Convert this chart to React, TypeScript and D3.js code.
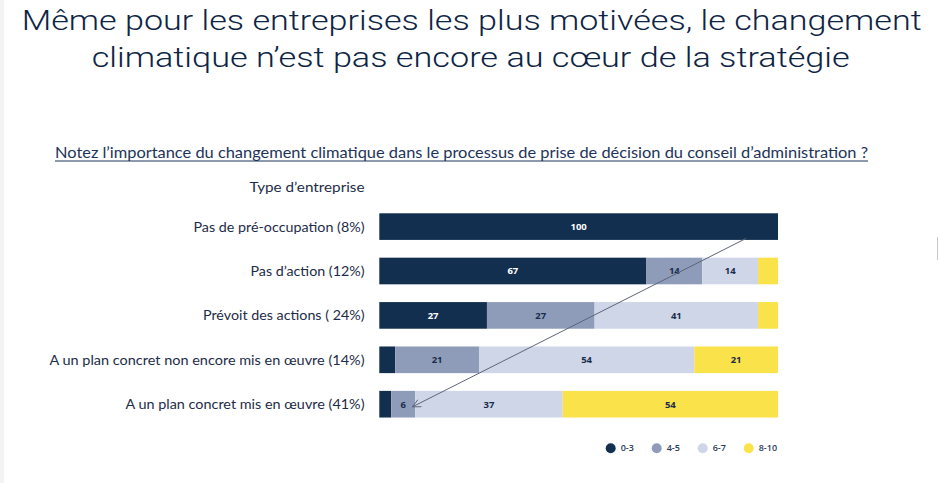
import React from "react";
import * as d3 from "d3";

const categories = [
  "Pas de pré-occupation (8%)",
  "Pas d’action (12%)",
  "Prévoit des actions ( 24%)",
  "A un plan concret non encore mis en œuvre (14%)",
  "A un plan concret mis en œuvre (41%)",
];
const seriesKeys = ["0-3", "4-5", "6-7", "8-10"];
const s03 = [100, 67, 27, 4, 3];
const s45 = [0, 14, 27, 21, 6];
const s67 = [0, 14, 41, 54, 37];
const s810 = [0, 5, 5, 21, 54];
const colors = ["#132f50", "#8e9cba", "#ced6e8", "#fae24a"];
const labelColors = ["#ffffff", "#1b2c4a", "#1b2c4a", "#1b2c4a"];

const titleLines = [
  "Même pour les entreprises les plus motivées, le changement",
  "climatique n’est pas encore au cœur de la stratégie",
];
const subtitle =
  "Notez l’importance du changement climatique dans le processus de prise de décision du conseil d’administration ?";
const axisTitle = "Type d’entreprise";

export default function App() {
  const W = 939;
  const H = 483;
  const rows = categories.map((c, i) => ({
    cat: c,
    "0-3": s03[i],
    "4-5": s45[i],
    "6-7": s67[i],
    "8-10": s810[i],
  }));
  const stack = d3.stack<any>().keys(seriesKeys)(rows);
  const x = d3.scaleLinear().domain([0, 100]).range([379.3, 778]);
  const y = d3
    .scaleBand<string>()
    .domain(categories)
    .range([204.4, 426.4])
    .paddingInner(0.4)
    .paddingOuter(0.2);
  const bw = y.bandwidth();

  const titleFont = "Roboto, 'Liberation Sans', Arial, sans-serif";
  const bodyFont = "Lato, 'Open Sans', sans-serif";
  const labelWidths = [171, 114, 161.5, 315, 239];

  const legendX = [610.7, 656.7, 702.7, 748.7];

  const ax1 = x(92), ay1 = (y(categories[0]) as number) + bw - 1.5;
  const ax2 = x(8.3), ay2 = (y(categories[4]) as number) + bw * 0.6;
  const ang = Math.atan2(ay1 - ay2, ax1 - ax2);
  const ah = 9;
  const spread = 0.45;
  const h1 = [ax2 + ah * Math.cos(ang + spread), ay2 + ah * Math.sin(ang + spread)];
  const h2 = [ax2 + ah * Math.cos(ang - spread), ay2 + ah * Math.sin(ang - spread)];

  return (
    <div style={{ position: "absolute", left: 0, top: 0 }}>
      <svg width={W} height={H} style={{ display: "block", background: "#ffffff" }}>
        <rect x={0} y={0} width={4} height={H} fill="#f4f4f4" />
        <line x1={937.5} x2={937.5} y1={237} y2={260} stroke="#c8c8c8" strokeWidth={1} />
        {titleLines.map((t, i) => (
          <text
            key={i}
            x={i === 0 ? 21.7 : 91.7}
            y={i === 0 ? 30 : 67}
            fontFamily={titleFont}
            fontWeight={300}
            fontSize={28.5}
            fill="#0e2444"
            textLength={i === 0 ? 900 : 758}
            lengthAdjust="spacingAndGlyphs"
          >
            {t}
          </text>
        ))}
        <text
          x={55}
          y={158.3}
          fontFamily={bodyFont}
          fontSize={15}
          fill="#1d3458"
          textLength={813}
          lengthAdjust="spacingAndGlyphs"
        >
          {subtitle}
        </text>
        <line x1={55} x2={868} y1={161} y2={161} stroke="#1d3458" strokeWidth={1} />
        <text
          x={364.5}
          y={192}
          textAnchor="end"
          fontFamily={bodyFont}
          fontSize={13.5}
          fill="#1d2c47"
          textLength={115}
          lengthAdjust="spacingAndGlyphs"
        >
          {axisTitle}
        </text>
        {categories.map((c, i) => (
          <text
            key={c}
            x={364.5}
            y={(y(c) as number) + bw / 2}
            dy="0.36em"
            textAnchor="end"
            fontFamily={bodyFont}
            fontSize={14}
            fill="#1d2c47"
            textLength={labelWidths[i]}
            lengthAdjust="spacingAndGlyphs"
          >
            {c}
          </text>
        ))}
        {stack.map((series, si) => (
          <g key={series.key}>
            {series.map((d, i) => {
              const x0 = x(d[0]);
              const x1 = x(d[1]);
              const v = d[1] - d[0];
              if (v <= 0) return null;
              const yy = y(categories[i]) as number;
              return (
                <g key={i}>
                  <rect x={x0} y={yy} width={x1 - x0} height={bw} fill={colors[si]} />
                  {v > 5 && (
                    <text
                      x={(x0 + x1) / 2}
                      y={yy + bw / 2}
                      dy="0.36em"
                      textAnchor="middle"
                      fontFamily="'Open Sans', sans-serif"
                      fontWeight={700}
                      fontSize={9.5}
                      fill={labelColors[si]}
                    >
                      {v}
                    </text>
                  )}
                </g>
              );
            })}
          </g>
        ))}
        <line x1={ax1} y1={ay1} x2={ax2} y2={ay2} stroke="#5d6678" strokeWidth={1} />
        <polyline
          points={`${h1[0]},${h1[1]} ${ax2},${ay2} ${h2[0]},${h2[1]}`}
          fill="none"
          stroke="#5d6678"
          strokeWidth={1}
        />
        {seriesKeys.map((k, i) => (
          <g key={k}>
            <circle cx={legendX[i]} cy={448.3} r={5} fill={colors[i]} />
            <text
              x={legendX[i] + 10}
              y={448.3}
              dy="0.35em"
              fontFamily="'Open Sans', sans-serif"
              fontSize={9}
              fontWeight={600}
              fill="#2a3956"
            >
              {k}
            </text>
          </g>
        ))}
      </svg>
    </div>
  );
}
